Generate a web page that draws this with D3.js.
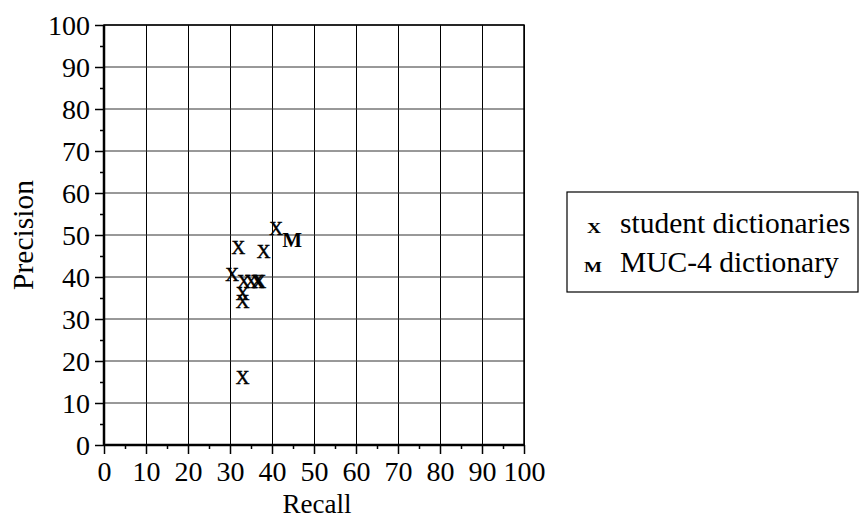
<!DOCTYPE html>
<html>
<head>
<meta charset="utf-8">
<script src="https://cdn.jsdelivr.net/npm/d3@7"></script>
<style>
  body { margin: 0; background: #fff; }
  svg text { font-family: "Liberation Serif", "Times New Roman", serif; fill: #000; }
</style>
</head>
<body>
<div id="chart"></div>
<script>
// values
var studentRecall    = [32, 38, 41, 30.5, 33.3, 35, 36.5, 37, 33, 33, 33];
var studentPrecision = [47, 46, 51.5, 40.5, 38.8, 38.8, 38.8, 38.8, 36, 34, 16];
var mucRecall    = [44.8];
var mucPrecision = [48.8];
var majorTicks = d3.range(0, 101, 10);
var minorTicks = d3.range(5, 100, 10);
var legendLabels = ["student dictionaries", "MUC-4 dictionary"];
var legendMarks = ["x", "M"];

var W = 859, H = 518;
var margin = {top: 25, right: 335, bottom: 73, left: 104};
var width = W - margin.left - margin.right,
    height = H - margin.top - margin.bottom;

var svg = d3.select("#chart").append("svg")
  .attr("width", W).attr("height", H);
var g = svg.append("g")
  .attr("transform", "translate(" + margin.left + "," + margin.top + ")");

var x = d3.scaleLinear().domain([0, 100]).range([0, width]);
var y = d3.scaleLinear().domain([0, 100]).range([height, 0]);

// grid
g.selectAll(".vgrid").data(majorTicks.slice(1)).enter().append("line")
  .attr("x1", function(d) { return Math.round(x(d)) + 0.5; })
  .attr("x2", function(d) { return Math.round(x(d)) + 0.5; })
  .attr("y1", 0).attr("y2", height)
  .attr("stroke", "#000").attr("stroke-width", 1);
g.selectAll(".hgrid").data(majorTicks.slice(1)).enter().append("line")
  .attr("y1", function(d) { return y(d); })
  .attr("y2", function(d) { return y(d); })
  .attr("x1", 0).attr("x2", width)
  .attr("stroke", "#333").attr("stroke-width", 1);

// axes
var xAxis = g.append("g").attr("transform", "translate(0," + height + ")")
  .call(d3.axisBottom(x).tickValues(majorTicks).tickSize(9).tickPadding(7));
var xMinor = g.append("g").attr("transform", "translate(0," + height + ")")
  .call(d3.axisBottom(x).tickValues(minorTicks).tickSize(4).tickFormat(""));
var yAxis = g.append("g")
  .call(d3.axisLeft(y).tickValues(majorTicks).tickSize(9).tickPadding(5));
var yMinor = g.append("g")
  .call(d3.axisLeft(y).tickValues(minorTicks).tickSize(4).tickFormat(""));

[xAxis, xMinor, yAxis, yMinor].forEach(function(a) {
  a.select(".domain").remove();
  a.selectAll("line").attr("stroke", "#000").attr("stroke-width", 1.5);
  a.selectAll("text").style("font-size", "28px")
    .style("font-family", "'Liberation Serif', 'Times New Roman', serif");
});
xAxis.selectAll("text").attr("dy", "0.71em");
yAxis.selectAll("text").attr("dy", "0.34em");

// frame
g.append("rect").attr("x", 0).attr("y", 0)
  .attr("width", width).attr("height", height)
  .attr("fill", "none").attr("stroke", "#000").attr("stroke-width", 1.5);
g.append("line").attr("x1", 0).attr("x2", 0).attr("y1", 0).attr("y2", height)
  .attr("stroke", "#000").attr("stroke-width", 2.5);
g.append("line").attr("x1", 0).attr("x2", width).attr("y1", height).attr("y2", height)
  .attr("stroke", "#000").attr("stroke-width", 2.5);

// points
var students = studentRecall.map(function(r, i) { return [r, studentPrecision[i]]; });
var muc = mucRecall.map(function(r, i) { return [r, mucPrecision[i]]; });

g.selectAll(".stu").data(students).enter().append("text")
  .attr("x", function(d) { return x(d[0]); })
  .attr("y", function(d) { return y(d[1]); })
  .attr("dy", "0.33em")
  .attr("text-anchor", "middle")
  .style("font-size", "19px")
  .style("stroke", "#000").style("stroke-width", 0.5)
  .text("X");
g.selectAll(".muc").data(muc).enter().append("text")
  .attr("x", function(d) { return x(d[0]); })
  .attr("y", function(d) { return y(d[1]); })
  .attr("dy", "0.33em")
  .attr("text-anchor", "middle")
  .style("font-size", "21px")
  .style("font-weight", "bold")
  .text("M");

// axis titles
svg.append("text")
  .attr("x", 317).attr("y", 513)
  .attr("text-anchor", "middle").style("font-size", "27px")
  .text("Recall");
svg.append("text")
  .attr("transform", "translate(33," + (margin.top + height / 2) + ") rotate(-90)")
  .attr("text-anchor", "middle").style("font-size", "29.5px")
  .text("Precision");

// legend
var legend = svg.append("g").attr("transform", "translate(567,192)");
legend.append("rect").attr("width", 291).attr("height", 100)
  .attr("fill", "#fff").attr("stroke", "#000").attr("stroke-width", 1.2);
legendLabels.forEach(function(lab, i) {
  legend.append("text").attr("x", i === 0 ? 20 : 17).attr("y", 41 + i * 39)
    .attr("textLength", i === 0 ? 14 : 18).attr("lengthAdjust", "spacingAndGlyphs")
    .style("font-size", "15px")
    .style("font-weight", "bold")
    .text(legendMarks[i].toUpperCase());
  legend.append("text").attr("x", 53).attr("y", 41 + i * 39)
    .style("font-size", "29.5px").text(lab);
});
</script>
</body>
</html>
